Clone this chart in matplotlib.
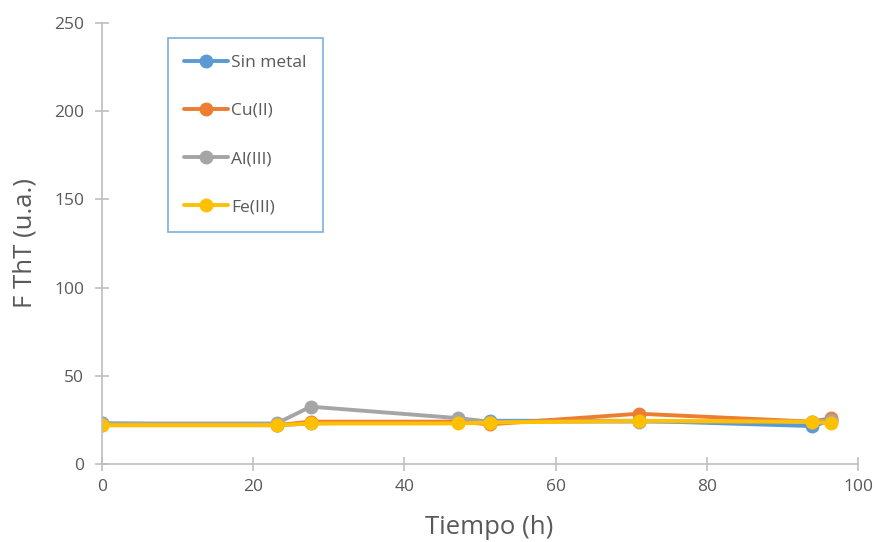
import matplotlib
matplotlib.use("Agg")
import matplotlib.pyplot as plt

plt.rcParams['font.family'] = ['Open Sans', 'DejaVu Sans']

# Data
tiempo = [0, 23.1, 27.6, 47.1, 51.3, 71.0, 93.9, 96.4]
sin_metal = [23, 22, 23, 24, 24.5, 24.5, 21.5, 24.5]
cu = [22, 22, 24, 24, 22.5, 28.5, 24, 26]
al = [23, 23, 32.5, 26, 24, 24, 24, 25]
fe = [22, 22, 23, 23, 23.5, 24.5, 24, 23]

series = [
    ("Sin metal", sin_metal, "#5b9bd5"),
    ("Cu(II)", cu, "#ed7d31"),
    ("Al(III)", al, "#a5a5a5"),
    ("Fe(III)", fe, "#ffc000"),
]

fig = plt.figure(figsize=(8.76, 5.42), dpi=100)
ax = fig.add_axes([102/876, 78/542, 756/876, 441/542])

for name, vals, col in series:
    ax.plot(tiempo, vals, color=col, lw=2.8, marker="o", ms=9, label=name,
            solid_capstyle="round")

ax.set_xlim(0, 100)
ax.set_ylim(0, 250)
ax.set_xticks(range(0, 101, 20))
ax.set_yticks(range(0, 251, 50))

for s in ["top", "right"]:
    ax.spines[s].set_visible(False)
for s in ["left", "bottom"]:
    ax.spines[s].set_color("#bfbfbf")
    ax.spines[s].set_linewidth(1.2)
ax.tick_params(colors="#595959", labelsize=12.5, width=1.2)
ax.tick_params(axis="x", color="#bfbfbf", direction="inout", length=10, pad=6)
ax.tick_params(axis="y", color="#bfbfbf", direction="inout", length=10, pad=8)

ax.set_xlabel("Tiempo (h)", fontsize=18.5, color="#595959")
ax.set_ylabel("F ThT (u.a.)", fontsize=18.5, color="#595959", labelpad=12)
ax.xaxis.set_label_coords(0.512, -0.115)

leg = ax.legend(loc="upper left", bbox_to_anchor=(66/756, 1 - 15/441),
                frameon=True, fancybox=False, fontsize=12.5, labelspacing=1.85,
                handlelength=2.5, borderpad=0.95, handletextpad=0.2,
                borderaxespad=0, labelcolor="#595959")
leg.get_frame().set_edgecolor("#5b9bd5")
leg.get_frame().set_linewidth(1.2)

fig.savefig("out.png", dpi=100)
